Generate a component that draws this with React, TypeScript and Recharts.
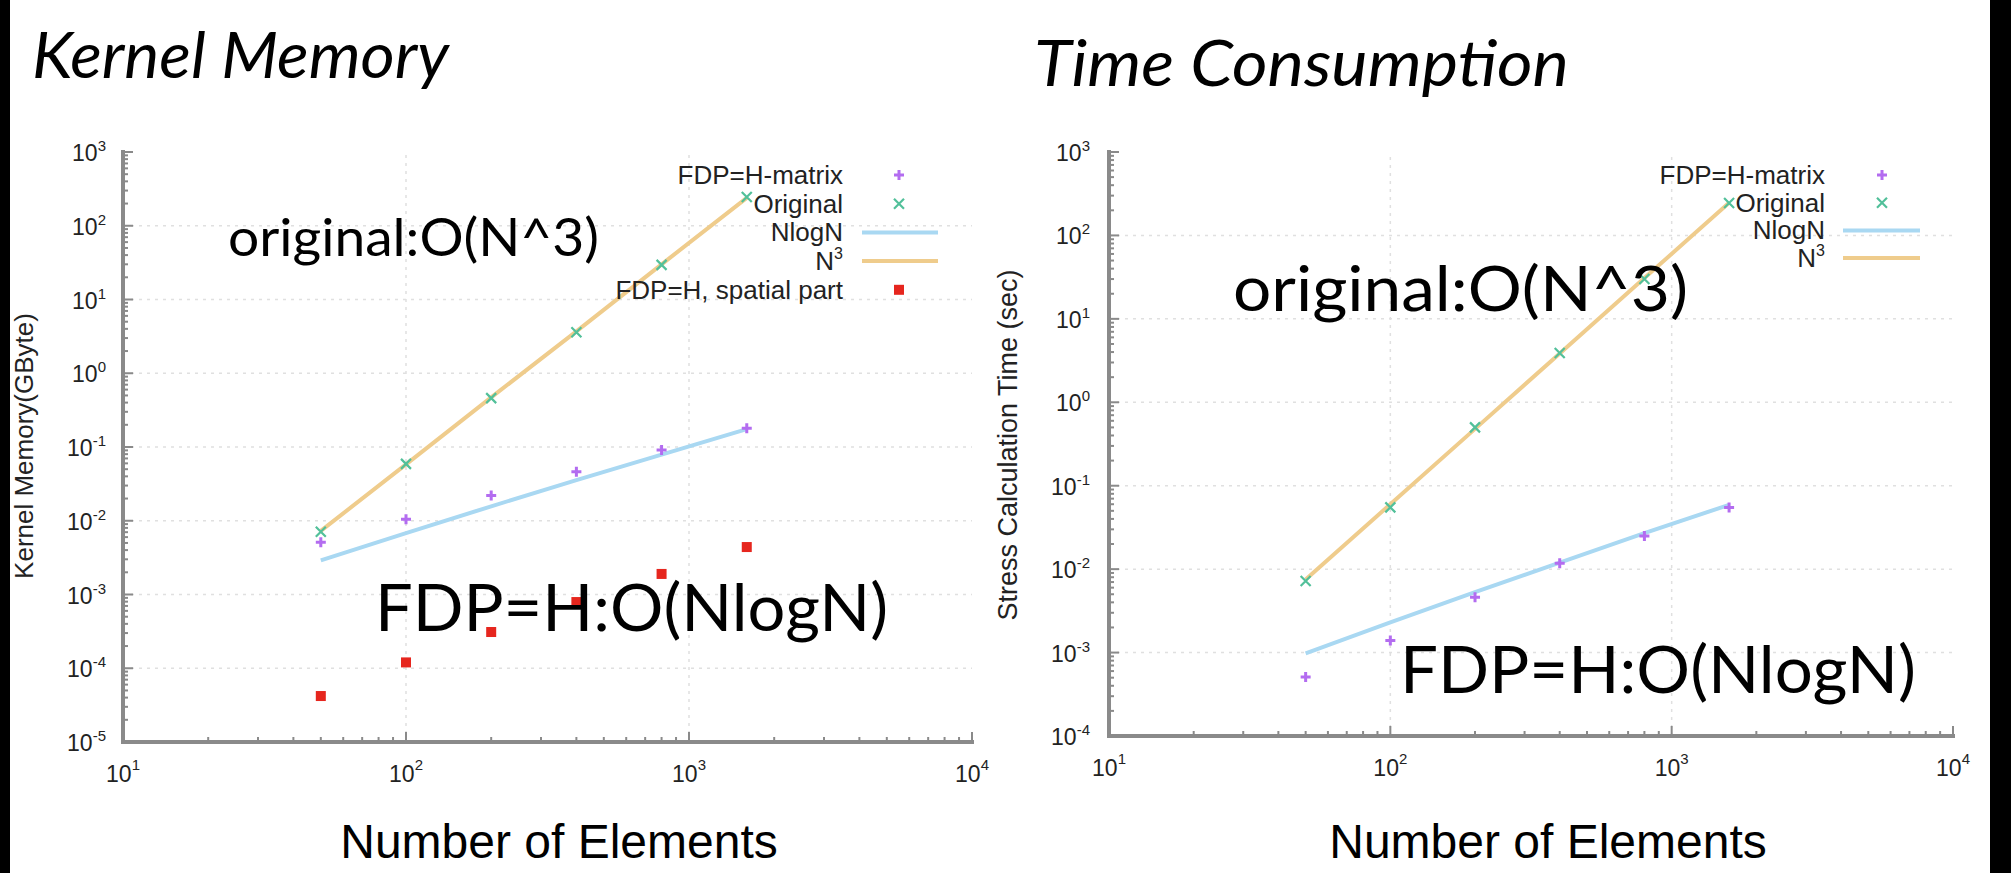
import React from "react";
import { ComposedChart, Line, Scatter, XAxis, YAxis, ReferenceLine } from "recharts";

// number of elements N (x values)
const ELEMENTS = [50, 100, 200, 400, 800, 1600];

// left panel: kernel memory (GByte)
const MEM_HMATRIX = [0.0051, 0.0105, 0.022, 0.046, 0.091, 0.18];
const MEM_ORIGINAL = [0.0071, 0.059, 0.46, 3.6, 29.5, 245];
const MEM_NLOGN = [0.0029, 0.0068, 0.0157, 0.0355, 0.079, 0.175];
const MEM_N3 = [0.0073, 0.058, 0.47, 3.7, 30, 239];
const MEM_SPATIAL = [0.000042, 0.00012, 0.00031, 0.00079, 0.0019, 0.0044];

// right panel: stress calculation time (sec)
const TIME_HMATRIX = [0.00051, 0.0014, 0.0046, 0.0118, 0.025, 0.055];
const TIME_ORIGINAL = [0.0072, 0.055, 0.5, 3.9, 30, 245];
const TIME_NLOGN = [0.00098, 0.0023, 0.0053, 0.012, 0.027, 0.059];
const TIME_N3 = [0.0075, 0.06, 0.48, 3.85, 30.8, 246];

// axes
const X_MAJOR = [10, 100, 1000, 10000];
const MEM_Y_MAJOR = [1e-5, 1e-4, 1e-3, 1e-2, 1e-1, 1, 10, 100, 1000];
const TIME_Y_MAJOR = [1e-4, 1e-3, 1e-2, 1e-1, 1, 10, 100, 1000];
const MINOR_STEPS = [2, 3, 4, 5, 6, 7, 8, 9];

const MEM_LEGEND = ["FDP=H-matrix", "Original", "NlogN", "N", "FDP=H, spatial part"];
const TIME_LEGEND = ["FDP=H-matrix", "Original", "NlogN", "N"];

const PURPLE = "#b36cf0";
const GREEN = "#52c09a";
const BLUE_LINE = "#a9d8f2";
const ORANGE_LINE = "#efcc8c";
const RED = "#e6261e";
const AXIS = "#8a8a8a";
const GRID = "#e0e0e0";
const SANS = "'Liberation Sans', Arial, sans-serif";
const LATO = "Lato, 'Open Sans', sans-serif";

const withMinor = (majors: number[]) =>
  majors.flatMap((m, i) => (i < majors.length - 1 ? [m, ...MINOR_STEPS.map((s) => s * m)] : [m]));

const exponent = (v: number) => Math.round(Math.log10(v));
const isMajor = (v: number) => Math.abs(Math.log10(v) - exponent(v)) < 1e-6;

const memRows = ELEMENTS.map((n, i) => ({
  n,
  hm: MEM_HMATRIX[i],
  orig: MEM_ORIGINAL[i],
  nlogn: MEM_NLOGN[i],
  n3: MEM_N3[i],
  spatial: MEM_SPATIAL[i],
}));

const timeRows = ELEMENTS.map((n, i) => ({
  n,
  hm: TIME_HMATRIX[i],
  orig: TIME_ORIGINAL[i],
  nlogn: TIME_NLOGN[i],
  n3: TIME_N3[i],
}));

function BottomTick({ x, y, payload }: any) {
  const major = isMajor(payload.value);
  return (
    <g>
      <line x1={x} x2={x} y1={y} y2={y - (major ? 10 : 5)} stroke={AXIS} strokeWidth={2} />
      {major && (
        <text x={x} y={y + 40} textAnchor="middle" fontSize={23} fill="#222" fontFamily={SANS}>
          10
          <tspan dy={-12} fontSize={15}>
            {exponent(payload.value)}
          </tspan>
        </text>
      )}
    </g>
  );
}

function TopTick({ x, y, payload }: any) {
  const len = isMajor(payload.value) ? 10 : 5;
  return <line x1={x} x2={x} y1={y} y2={y + len} stroke={AXIS} strokeWidth={2} />;
}

function RightTick({ x, y, payload }: any) {
  const len = isMajor(payload.value) ? 10 : 5;
  return <line x1={x} x2={x - len} y1={y} y2={y} stroke={AXIS} strokeWidth={2} />;
}

function LeftTick({ x, y, payload, gap }: any) {
  const major = isMajor(payload.value);
  return (
    <g>
      <line x1={x} x2={x + (major ? 10 : 5)} y1={y} y2={y} stroke={AXIS} strokeWidth={2} />
      {major && (
        <text x={x - gap} y={y + 9} textAnchor="end" fontSize={23} fill="#222" fontFamily={SANS}>
          10
          <tspan dy={-10} fontSize={15}>
            {exponent(payload.value)}
          </tspan>
        </text>
      )}
    </g>
  );
}

const plusShape = (p: any) => (
  <path d={`M${p.cx - 5},${p.cy}h10M${p.cx},${p.cy - 5}v10`} stroke={PURPLE} strokeWidth={3} />
);
const crossShape = (p: any) => (
  <path
    d={`M${p.cx - 5},${p.cy - 5}l10,10M${p.cx - 5},${p.cy + 5}l10,-10`}
    stroke={GREEN}
    strokeWidth={2.2}
  />
);
const squareShape = (p: any) => <rect x={p.cx - 5} y={p.cy - 5} width={10} height={10} fill={RED} />;

function Panel({ rows, yMajor, yWidth, margin, labelGap, spatial }: any) {
  const xTicks = withMinor(X_MAJOR);
  const yTicks = withMinor(yMajor);
  const xDomain = [X_MAJOR[0], X_MAJOR[X_MAJOR.length - 1]];
  const yDomain = [yMajor[0], yMajor[yMajor.length - 1]];
  const frame = { stroke: AXIS, strokeWidth: 4, strokeLinecap: "square" as const };
  return (
    <ComposedChart width={spatial ? 1000 : 1011} height={873} data={rows} margin={margin}>
      {X_MAJOR.slice(1, -1).map((v) => (
        <ReferenceLine key={"gx" + v} x={v} stroke={GRID} strokeWidth={1.5} strokeDasharray="3 5" />
      ))}
      {yMajor.slice(1, -1).map((v: number) => (
        <ReferenceLine key={"gy" + v} y={v} stroke={GRID} strokeWidth={1.5} strokeDasharray="3 5" />
      ))}
      <XAxis
        dataKey="n"
        type="number"
        scale="log"
        domain={xDomain}
        allowDataOverflow
        ticks={xTicks}
        interval={0}
        tickSize={0}
        tickMargin={0}
        tickLine={false}
        axisLine={frame}
        height={50}
        tick={BottomTick}
      />
      <XAxis
        xAxisId="top"
        orientation="top"
        type="number"
        scale="log"
        domain={xDomain}
        allowDataOverflow
        ticks={xTicks}
        interval={0}
        tickSize={0}
        tickMargin={0}
        tickLine={false}
        axisLine={frame}
        height={0}
        tick={TopTick}
      />
      <YAxis
        type="number"
        scale="log"
        domain={yDomain}
        allowDataOverflow
        ticks={yTicks}
        interval={0}
        tickSize={0}
        tickMargin={0}
        tickLine={false}
        axisLine={frame}
        width={yWidth}
        tick={(p: any) => <LeftTick {...p} gap={labelGap} />}
      />
      <YAxis
        yAxisId="right"
        orientation="right"
        type="number"
        scale="log"
        domain={yDomain}
        allowDataOverflow
        ticks={yTicks}
        interval={0}
        tickSize={0}
        tickMargin={0}
        tickLine={false}
        axisLine={frame}
        width={0}
        tick={RightTick}
      />
      <Line type="linear" dataKey="nlogn" stroke={BLUE_LINE} strokeWidth={4} dot={false} isAnimationActive={false} />
      <Line type="linear" dataKey="n3" stroke={ORANGE_LINE} strokeWidth={4} dot={false} isAnimationActive={false} />
      <Scatter dataKey="hm" shape={plusShape} isAnimationActive={false} />
      <Scatter dataKey="orig" shape={crossShape} isAnimationActive={false} />
      {spatial && <Scatter dataKey="spatial" shape={squareShape} isAnimationActive={false} />}
    </ComposedChart>
  );
}

function KeyBox({ labels, textRight, symbolX, lineFrom, lineTo, top, step }: any) {
  const symbols = ["plus", "cross", "blue", "orange", "square"];
  return (
    <g>
      {labels.map((label: string, i: number) => {
        const cy = top + i * step;
        const kind = symbols[i];
        return (
          <g key={label + i}>
            <text x={textRight} y={cy + 9} textAnchor="end" fontSize={26} fill="#222" fontFamily={SANS}>
              {label}
              {kind === "orange" && (
                <tspan dy={-11} fontSize={16}>
                  3
                </tspan>
              )}
            </text>
            {kind === "plus" && plusShape({ cx: symbolX, cy })}
            {kind === "cross" && crossShape({ cx: symbolX, cy })}
            {kind === "square" && squareShape({ cx: symbolX, cy })}
            {kind === "blue" && <line x1={lineFrom} x2={lineTo} y1={cy} y2={cy} stroke={BLUE_LINE} strokeWidth={4} />}
            {kind === "orange" && (
              <line x1={lineFrom} x2={lineTo} y1={cy} y2={cy} stroke={ORANGE_LINE} strokeWidth={4} />
            )}
          </g>
        );
      })}
    </g>
  );
}

export default function App() {
  return (
    <div
      style={{
        position: "absolute",
        left: 0,
        top: 0,
        width: 2011,
        height: 873,
        background: "#fff",
        overflow: "hidden",
      }}
    >
      <div style={{ position: "absolute", left: 0, top: 0 }}>
        <Panel
          rows={memRows}
          yMajor={MEM_Y_MAJOR}
          yWidth={123}
          margin={{ top: 152, right: 28, bottom: 81, left: 0 }}
          labelGap={17}
          spatial
        />
      </div>
      <div style={{ position: "absolute", left: 1000, top: 0 }}>
        <Panel
          rows={timeRows}
          yMajor={TIME_Y_MAJOR}
          yWidth={109}
          margin={{ top: 152, right: 58, bottom: 87, left: 0 }}
          labelGap={19}
          spatial={false}
        />
      </div>

      <svg
        width={2011}
        height={873}
        style={{ position: "absolute", left: 0, top: 0, pointerEvents: "none" }}
      >
        <rect x={0} y={0} width={10} height={873} fill="#000" />
        <rect x={1990} y={0} width={21} height={873} fill="#000" />

        <text x={32} y={78} fontSize={64} fontStyle="italic" fontFamily={LATO} fill="#000" textLength={417} lengthAdjust="spacingAndGlyphs">
          Kernel Memory
        </text>
        <text x={1034} y={86} fontSize={64} fontStyle="italic" fontFamily={LATO} fill="#000" textLength={535} lengthAdjust="spacingAndGlyphs">
          Time Consumption
        </text>

        <text
          transform="translate(24,446) rotate(-90)"
          textAnchor="middle"
          dominantBaseline="central"
          fontSize={26}
          fontFamily={SANS}
          fill="#222"
        >
          Kernel Memory(GByte)
        </text>
        <text
          transform="translate(1008,445) rotate(-90)"
          textAnchor="middle"
          dominantBaseline="central"
          fontSize={27}
          fontFamily={SANS}
          fill="#222"
        >
          Stress Calculation Time (sec)
        </text>

        <text x={559} y={858} textAnchor="middle" fontSize={48} fontFamily={SANS} fill="#000">
          Number of Elements
        </text>
        <text x={1548} y={858} textAnchor="middle" fontSize={48} fontFamily={SANS} fill="#000">
          Number of Elements
        </text>

        <KeyBox labels={MEM_LEGEND} textRight={843} symbolX={899} lineFrom={862} lineTo={938} top={175} step={28.7} />
        <KeyBox labels={TIME_LEGEND} textRight={1825} symbolX={1882} lineFrom={1843} lineTo={1920} top={175} step={27.7} />

        <text x={228} y={256} fontSize={52} fontFamily={LATO} fill="#000" textLength={371} lengthAdjust="spacingAndGlyphs">
          original:O(N^3)
        </text>
        <text x={375} y={631} fontSize={65} fontFamily={LATO} fill="#000" textLength={513} lengthAdjust="spacingAndGlyphs">
          FDP=H:O(NlogN)
        </text>
        <text x={1233} y={311} fontSize={62} fontFamily={LATO} fill="#000" textLength={455} lengthAdjust="spacingAndGlyphs">
          original:O(N^3)
        </text>
        <text x={1400} y={693} fontSize={65} fontFamily={LATO} fill="#000" textLength={516} lengthAdjust="spacingAndGlyphs">
          FDP=H:O(NlogN)
        </text>
      </svg>
    </div>
  );
}
